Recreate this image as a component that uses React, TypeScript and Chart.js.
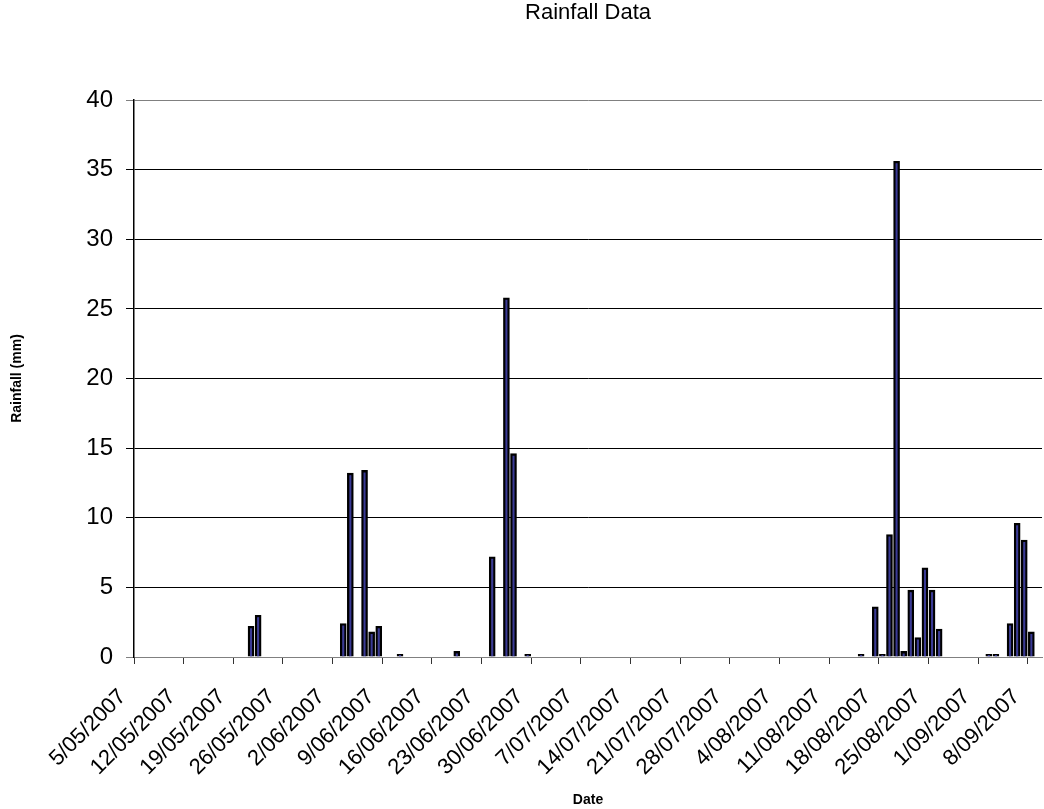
import React, { useEffect, useRef } from 'react';
import { Chart, registerables } from 'chart.js';

Chart.register(...registerables);

// Daily series runs from 5 May 2007 for 128 days
const START_DATE = '2007-05-05';
const DAY_COUNT = 128;

// Days with recorded rainfall; every other day is dry (0 mm)
const RAIN_DATES = [
  '21/05/2007', '22/05/2007',
  '3/06/2007', '4/06/2007', '6/06/2007', '7/06/2007', '8/06/2007', '11/06/2007',
  '19/06/2007', '24/06/2007', '26/06/2007', '27/06/2007', '29/06/2007',
  '15/08/2007', '17/08/2007', '18/08/2007', '19/08/2007', '20/08/2007', '21/08/2007',
  '22/08/2007', '23/08/2007', '24/08/2007', '25/08/2007', '26/08/2007',
  '2/09/2007', '3/09/2007', '5/09/2007', '6/09/2007', '7/09/2007', '8/09/2007',
];
const RAIN_MM = [
  2.2, 3.0,
  2.4, 13.2, 13.4, 1.8, 2.2, 0.2,
  0.4, 7.2, 25.8, 14.6, 0.2,
  0.2, 3.6, 0.2, 8.8, 35.6, 0.4,
  4.8, 1.4, 6.4, 4.8, 2.0,
  0.2, 0.2, 2.4, 9.6, 8.4, 1.8,
];

// Weekly labels shown along the date axis
const TICK_LABELS = [
  '5/05/2007', '12/05/2007', '19/05/2007', '26/05/2007', '2/06/2007', '9/06/2007',
  '16/06/2007', '23/06/2007', '30/06/2007', '7/07/2007', '14/07/2007', '21/07/2007',
  '28/07/2007', '4/08/2007', '11/08/2007', '18/08/2007', '25/08/2007', '1/09/2007',
  '8/09/2007',
];

const Y_MIN = 0;
const Y_MAX = 40;
const Y_STEP = 5;

const FONT = "'Liberation Sans', Arial, Helvetica, sans-serif";

function formatDay(d: Date): string {
  const day = d.getUTCDate();
  const month = String(d.getUTCMonth() + 1).padStart(2, '0');
  return `${day}/${month}/${d.getUTCFullYear()}`;
}

function buildDays(): string[] {
  const out: string[] = [];
  const start = new Date(START_DATE + 'T00:00:00Z');
  for (let i = 0; i < DAY_COUNT; i++) {
    out.push(formatDay(new Date(start.getTime() + i * 86400000)));
  }
  return out;
}

const chartTitlePlugin = {
  id: 'chartTitle',
  afterDraw(chart: any) {
    const { ctx, chartArea } = chart;
    ctx.save();
    ctx.font = `22px ${FONT}`;
    ctx.fillStyle = '#000';
    ctx.textAlign = 'center';
    ctx.textBaseline = 'middle';
    ctx.fillText('Rainfall Data', (chartArea.left + chartArea.right) / 2, 13);
    ctx.restore();
  },
};

export default function App() {
  const canvasRef = useRef<HTMLCanvasElement | null>(null);

  useEffect(() => {
    const canvas = canvasRef.current;
    if (!canvas) return;
    const days = buildDays();
    const values = days.map((d) => {
      const k = RAIN_DATES.indexOf(d);
      return k >= 0 ? RAIN_MM[k] : 0;
    });
    const isLabelled = (i: number) => TICK_LABELS.includes(days[i]);

    const chart = new Chart(canvas, {
      type: 'bar',
      data: {
        labels: days,
        datasets: [
          {
            label: 'Rainfall (mm)',
            data: values,
            backgroundColor: '#3a3a96',
            borderColor: '#000000',
            borderWidth: 2.3,
            borderSkipped: 'start',
            barThickness: 6,
          },
        ],
      },
      options: {
        responsive: false,
        maintainAspectRatio: false,
        animation: false,
        layout: { padding: { top: 100, right: 2, left: 0, bottom: 0 } },
        plugins: {
          legend: { display: false },
          tooltip: { enabled: false },
          title: { display: false },
        },
        scales: {
          x: {
            type: 'category',
            offset: true,
            grid: {
              offset: true,
              drawOnChartArea: false,
              drawTicks: true,
              tickLength: 7,
              color: (c: any) => (isLabelled(c.index) ? '#333' : 'rgba(0,0,0,0)'),
              lineWidth: 1,
            },
            border: { display: true, color: '#808080', width: 1 },
            ticks: {
              autoSkip: false,
              maxRotation: 45,
              minRotation: 45,
              labelOffset: -15,
              padding: 20,
              color: '#000',
              font: { family: FONT, size: 22 },
              callback: (_v: any, i: number) => (isLabelled(i) ? days[i] : ''),
            },
            title: {
              display: true,
              text: 'Date',
              color: '#000',
              font: { family: FONT, size: 14, weight: 'bold' },
              padding: { top: 0, bottom: 0 },
            },
            afterFit: (s: any) => {
              s.height = 152;
              s.paddingLeft = 0;
              s.paddingRight = 0;
            },
          },
          y: {
            min: Y_MIN,
            max: Y_MAX,
            ticks: {
              stepSize: Y_STEP,
              padding: 13,
              color: '#000',
              font: { family: FONT, size: 24 },
            },
            grid: {
              color: (c: any) =>
                c.tick && (c.tick.value === Y_MAX || c.tick.value === Y_MIN) ? '#808080' : '#000',
              lineWidth: 1,
              drawTicks: true,
              tickLength: 8,
            },
            border: { display: true, color: '#000', width: 1.5 },
            title: {
              display: true,
              text: 'Rainfall (mm)',
              color: '#000',
              font: { family: FONT, size: 14, weight: 'bold' },
              padding: { top: 9, bottom: 0 },
            },
            afterFit: (s: any) => {
              s.width = 134;
            },
          },
        },
      },
      plugins: [chartTitlePlugin],
    });

    return () => chart.destroy();
  }, []);

  return (
    <div style={{ position: 'fixed', left: 0, top: 0, width: 1044, height: 809, background: '#fff' }}>
      <canvas ref={canvasRef} width={1044} height={809} style={{ display: 'block' }} />
    </div>
  );
}
